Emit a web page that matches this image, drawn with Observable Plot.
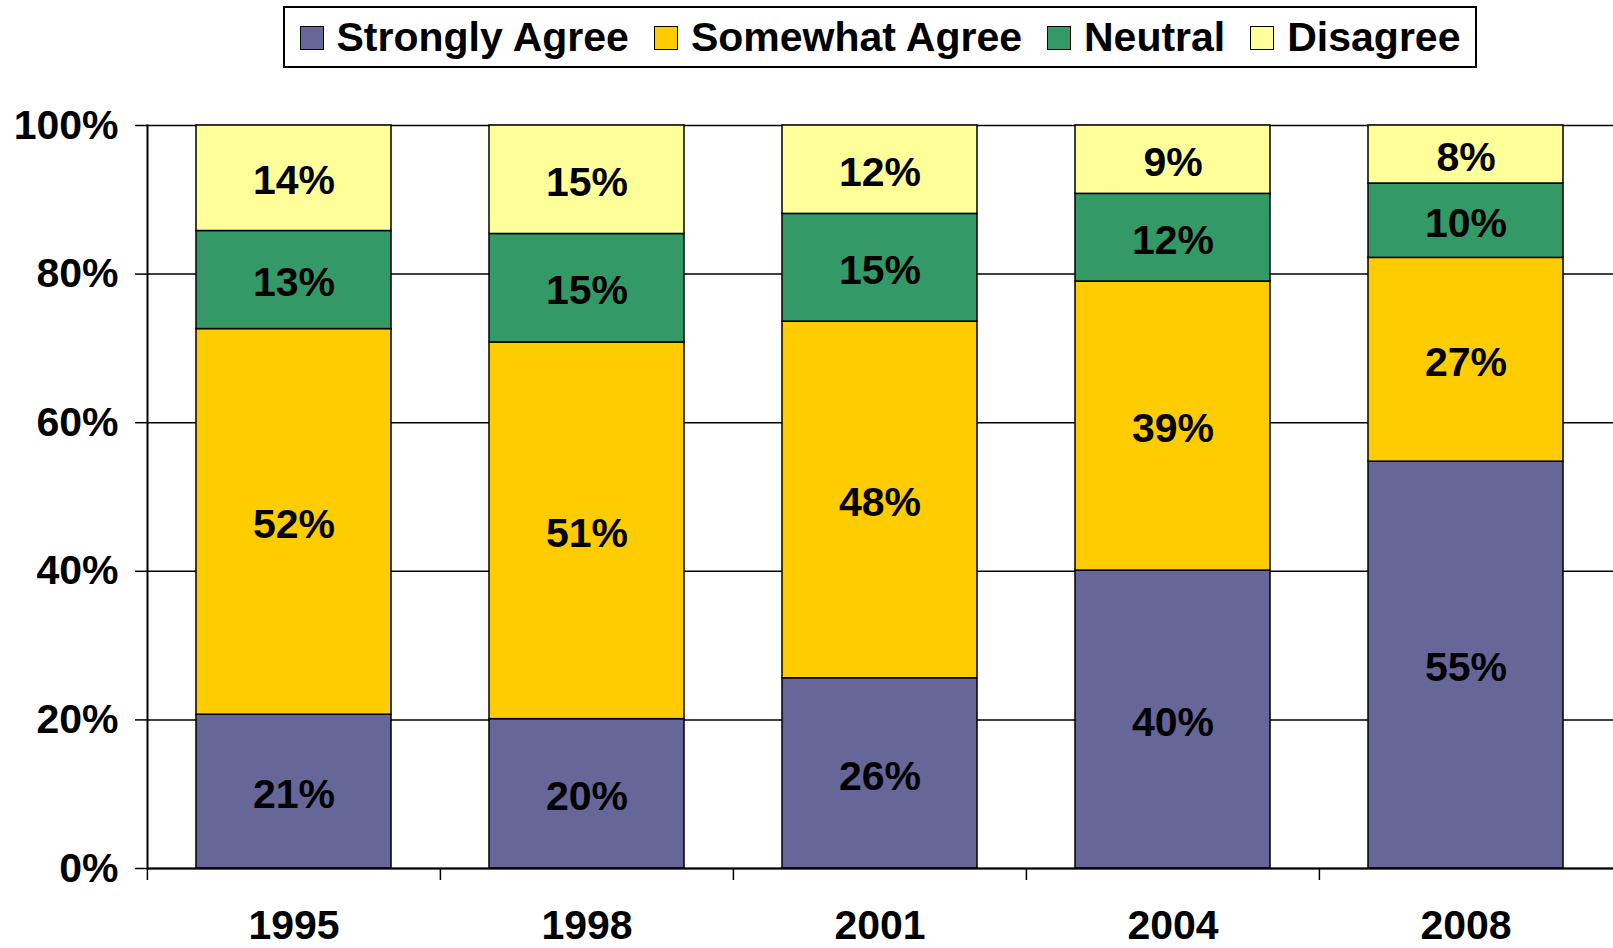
<!DOCTYPE html>
<html>
<head>
<meta charset="utf-8">
<script src="https://cdn.jsdelivr.net/npm/d3@7"></script>
<script src="https://cdn.jsdelivr.net/npm/@observablehq/plot@0.6"></script>
<style>
  html, body { margin: 0; padding: 0; background: #fff; }
  body { width: 1613px; height: 948px; overflow: hidden; font-family: "Liberation Sans", Arial, sans-serif; }
  #legend { position: relative; height: 80px; }
  #legendBox { position: absolute; left: 283px; top: 6px; width: 1194px; height: 62px; box-sizing: border-box;
    border: 2px solid #000; display: flex; justify-content: center; align-items: center; gap: 25px; }
  .item { display: flex; align-items: center; font-size: 41px; font-weight: bold; color: #000; line-height: 1; }
  .sw { width: 24px; height: 24px; box-sizing: border-box; border: 1.5px solid #000; margin-right: 13px; margin-top: 2px; }
  #chart svg { display: block; }
</style>
</head>
<body>
<div id="legend"><div id="legendBox"></div></div>
<div id="chart"></div>
<script>
const years = ["1995", "1998", "2001", "2004", "2008"];
const seriesNames = ["Strongly Agree", "Somewhat Agree", "Neutral", "Disagree"];
const seriesColors = ["#666699", "#FFCC00", "#339966", "#FFFF99"];
const stronglyAgree = [20.7, 20.1, 25.6, 40.1, 54.7];
const somewhatAgree = [51.9, 50.7, 48.0, 38.9, 27.4];
const neutral = [13.2, 14.6, 14.5, 11.8, 10.0];
const disagree = [14.2, 14.6, 11.9, 9.2, 7.8];
const yTicks = [0, 0.2, 0.4, 0.6, 0.8, 1];

const seriesValues = [stronglyAgree, somewhatAgree, neutral, disagree];
const rows = [];
years.forEach((yr, i) => {
  seriesNames.forEach((s, j) => {
    rows.push({year: yr, series: s, value: seriesValues[j][i]});
  });
});

// legend
const box = document.getElementById("legendBox");
seriesNames.forEach((s, j) => {
  const it = document.createElement("div");
  it.className = "item";
  const sw = document.createElement("div");
  sw.className = "sw";
  sw.style.background = seriesColors[j];
  const t = document.createElement("span");
  t.textContent = s;
  it.appendChild(sw); it.appendChild(t);
  box.appendChild(it);
});

const W = 1613, H = 868, mL = 147, mR = 0, mT = 45, mB = 80;
const step = (W - mL - mR) / years.length;

const chart = Plot.plot({
  width: W,
  height: H,
  marginLeft: mL,
  marginRight: mR,
  marginTop: mT,
  marginBottom: mB,
  style: {fontFamily: "'Liberation Sans', Arial, sans-serif", fontSize: "41px", fontWeight: "bold", color: "#000", background: "transparent"},
  x: {domain: years, paddingInner: 1/3, paddingOuter: 1/6, label: null},
  y: {domain: [0, 1], label: null},
  color: {domain: seriesNames, range: seriesColors},
  marks: [
    Plot.ruleY(yTicks, {stroke: "#000", strokeWidth: 1.5}),
    Plot.barY(rows, Plot.stackY({offset: "normalize", x: "year", y: "value", fill: "series", stroke: "#000", strokeWidth: 1.5})),
    Plot.text(rows, Plot.stackY({offset: "normalize", x: "year", y: "value", text: d => Math.round(d.value) + "%", fill: "#000", fontSize: 41, fontWeight: "bold", dy: 3})),
    Plot.frame({anchor: "left", stroke: "#000", strokeWidth: 2}),
    Plot.ruleY([0], {stroke: "#000", strokeWidth: 2}),
    Plot.axisY({ticks: yTicks, tickFormat: d3.format(".0%"), tickSize: 12, tickPadding: 17, strokeWidth: 1.5, fontSize: 41, fontWeight: "bold"}),
    Plot.axisX({tickSize: 0, tickPadding: 41, fontSize: 41, fontWeight: "bold"}),
    Plot.axisX({tickSize: 12, text: null, dx: -step / 2, strokeWidth: 1.5})
  ]
});
document.getElementById("chart").appendChild(chart);
</script>
</body>
</html>
